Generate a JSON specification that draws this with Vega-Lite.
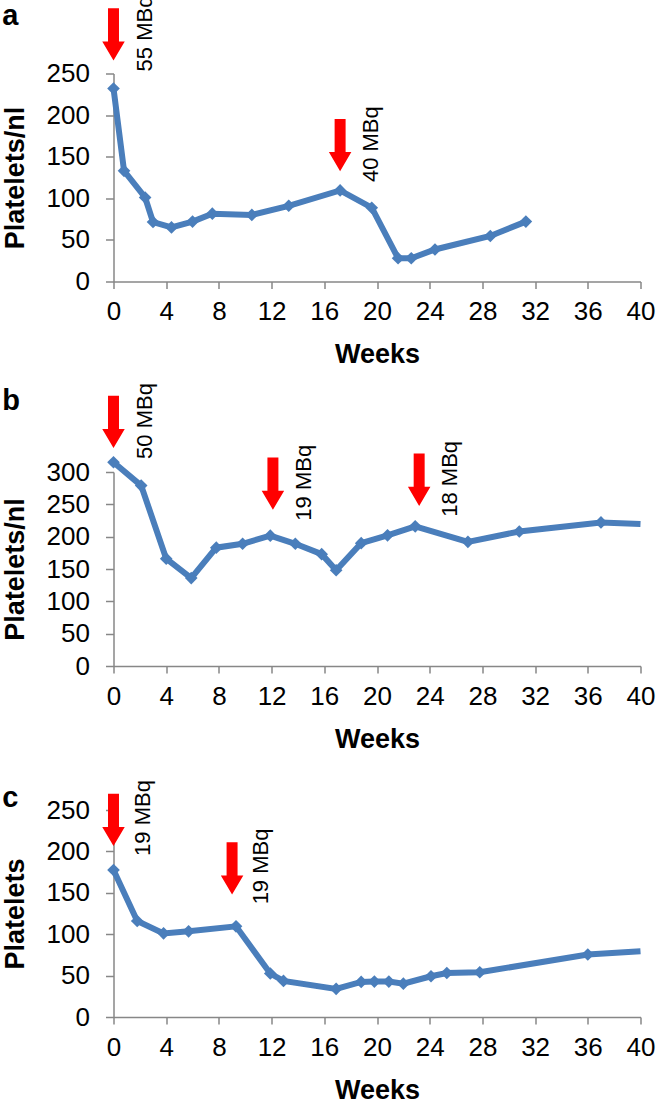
{
  "$schema": "https://vega.github.io/schema/vega-lite/v6.json",
  "padding": {"left": 0.5, "top": -4.5, "right": 0, "bottom": 0},
  "config": {
    "view": {"stroke": null},
    "font": "Liberation Sans",
    "axis": {
      "grid": false,
      "domainColor": "#878787", "domainWidth": 1.5,
      "tickColor": "#878787", "tickWidth": 1.5,
      "labelFont": "Liberation Sans", "labelFontSize": 26, "labelColor": "#000000",
      "titleFont": "Liberation Sans", "titleFontSize": 27, "titleFontWeight": "bold", "titleColor": "#000000",
      "labelOverlap": false
    },
    "axisX": {"tickSize": 7, "labelPadding": 10, "titlePadding": 17, "labelFlush": false},
    "axisY": {"tickSize": 8, "labelPadding": 16, "titlePadding": 17}
  },
  "datasets": {
    "a": [
      {"week": 0, "platelets": 232},
      {"week": 0.8, "platelets": 133},
      {"week": 2.4, "platelets": 101},
      {"week": 3.0, "platelets": 71.5},
      {"week": 4.4, "platelets": 65},
      {"week": 6.0, "platelets": 72},
      {"week": 7.5, "platelets": 81.5},
      {"week": 10.5, "platelets": 80},
      {"week": 13.3, "platelets": 91},
      {"week": 17.2, "platelets": 109.5},
      {"week": 19.6, "platelets": 88.7},
      {"week": 21.6, "platelets": 28},
      {"week": 22.6, "platelets": 28},
      {"week": 24.4, "platelets": 38.5},
      {"week": 28.6, "platelets": 54.7},
      {"week": 31.3, "platelets": 72}
    ],
    "b": [
      {"week": 0, "platelets": 315},
      {"week": 2.1, "platelets": 279},
      {"week": 4.0, "platelets": 166},
      {"week": 5.9, "platelets": 136},
      {"week": 7.8, "platelets": 183},
      {"week": 9.8, "platelets": 189},
      {"week": 11.9, "platelets": 201.5},
      {"week": 13.8, "platelets": 189},
      {"week": 15.8, "platelets": 173},
      {"week": 16.9, "platelets": 148},
      {"week": 18.8, "platelets": 190},
      {"week": 20.8, "platelets": 202},
      {"week": 22.9, "platelets": 216},
      {"week": 26.9, "platelets": 192},
      {"week": 30.8, "platelets": 208},
      {"week": 37.0, "platelets": 222},
      {"week": 40, "platelets": 219.6}
    ],
    "c": [
      {"week": 0, "platelets": 177.5},
      {"week": 1.8, "platelets": 116},
      {"week": 3.8, "platelets": 101},
      {"week": 5.7, "platelets": 103.5},
      {"week": 9.3, "platelets": 109.5},
      {"week": 11.9, "platelets": 52.5},
      {"week": 12.9, "platelets": 43.6},
      {"week": 16.9, "platelets": 34},
      {"week": 18.8, "platelets": 42.4},
      {"week": 19.8, "platelets": 42.8},
      {"week": 20.9, "platelets": 42.8},
      {"week": 22.0, "platelets": 40.3},
      {"week": 24.1, "platelets": 49.2},
      {"week": 25.3, "platelets": 53.2},
      {"week": 27.8, "platelets": 54},
      {"week": 36.0, "platelets": 75.5},
      {"week": 40, "platelets": 79.5}
    ],
    "a_doses": [
      {"week": 0, "y": 297, "dose": "55 MBq"},
      {"week": 17.2, "y": 164, "dose": "40 MBq"}
    ],
    "b_doses": [
      {"week": 0, "y": 377.5, "dose": "50 MBq"},
      {"week": 12.1, "y": 282, "dose": "19 MBq"},
      {"week": 23.2, "y": 288, "dose": "18 MBq"}
    ],
    "c_doses": [
      {"week": 0, "y": 238, "dose": "19 MBq"},
      {"week": 9.0, "y": 179.5, "dose": "19 MBq"}
    ]
  },
  "spacing": 15.5,
  "vconcat": [
    {
      "width": 527, "height": 208,
      "layer": [
        {
          "data": {"name": "a"},
          "mark": {"type": "line", "color": "#4A7EBB", "strokeWidth": 6},
          "encoding": {
            "x": {"field": "week", "type": "quantitative", "scale": {"domain": [0, 40], "nice": false}, "axis": {"values": [0,4,8,12,16,20,24,28,32,36,40], "tickCount": 20, "labelOverlap": false, "title": "Weeks"}},
            "y": {"field": "platelets", "type": "quantitative", "scale": {"domain": [0, 250], "nice": false}, "axis": {"values": [0,50,100,150,200,250], "tickCount": 20, "labelOverlap": false, "title": "Platelets/nl"}}
          }
        },
        {
          "data": {"name": "a"},
          "transform": [{"filter": "datum.week < 40"}],
          "mark": {"type": "point", "shape": "diamond", "filled": true, "opacity": 1, "color": "#4A7EBB", "size": 160},
          "encoding": {
            "x": {"field": "week", "type": "quantitative"},
            "y": {"field": "platelets", "type": "quantitative"}
          }
        },
        {
          "data": {"name": "a_doses"},
          "mark": {"type": "point", "shape": "M-0.21,-1L0.21,-1L0.21,0.27L0.43,0.27L0,1L-0.43,0.27L-0.21,0.27Z", "filled": true, "opacity": 1, "color": "#FF0000", "size": 2735},
          "encoding": {
            "x": {"field": "week", "type": "quantitative"},
            "y": {"field": "y", "type": "quantitative"}
          }
        },
        {
          "data": {"name": "a_doses"},
          "mark": {"type": "text", "angle": 270, "align": "left", "baseline": "middle", "dx": -37, "dy": 31, "fontSize": 22, "font": "Liberation Sans", "color": "#000000"},
          "encoding": {
            "x": {"field": "week", "type": "quantitative"},
            "y": {"field": "y", "type": "quantitative"},
            "text": {"field": "dose"}
          }
        },
        {
          "data": {"values": [{"panel": "a"}]},
          "mark": {"type": "text", "align": "left", "baseline": "alphabetic", "fontSize": 29, "fontWeight": "bold", "font": "Liberation Sans", "color": "#000000"},
          "encoding": {
            "x": {"datum": -8.45},
            "y": {"datum": 308},
            "text": {"field": "panel"}
          }
        }
      ]
    },
    {
      "spacing": 28,
      "vconcat": [
        {
          "width": 527, "height": 194,
          "layer": [
            {
              "data": {"name": "b"},
              "mark": {"type": "line", "color": "#4A7EBB", "strokeWidth": 6},
              "encoding": {
                "x": {"field": "week", "type": "quantitative", "scale": {"domain": [0, 40], "nice": false}, "axis": {"values": [0,4,8,12,16,20,24,28,32,36,40], "tickCount": 20, "labelOverlap": false, "title": "Weeks"}},
                "y": {"field": "platelets", "type": "quantitative", "scale": {"domain": [0, 300], "nice": false}, "axis": {"values": [0,50,100,150,200,250,300], "tickCount": 20, "labelOverlap": false, "title": "Platelets/nl"}}
              }
            },
            {
              "data": {"name": "b"},
              "transform": [{"filter": "datum.week < 40"}],
              "mark": {"type": "point", "shape": "diamond", "filled": true, "opacity": 1, "color": "#4A7EBB", "size": 160},
              "encoding": {
                "x": {"field": "week", "type": "quantitative"},
                "y": {"field": "platelets", "type": "quantitative"}
              }
            },
            {
              "data": {"name": "b_doses"},
              "mark": {"type": "point", "shape": "M-0.21,-1L0.21,-1L0.21,0.27L0.43,0.27L0,1L-0.43,0.27L-0.21,0.27Z", "filled": true, "opacity": 1, "color": "#FF0000", "size": 2735},
              "encoding": {
                "x": {"field": "week", "type": "quantitative"},
                "y": {"field": "y", "type": "quantitative"}
              }
            },
            {
              "data": {"name": "b_doses"},
              "mark": {"type": "text", "angle": 270, "align": "left", "baseline": "middle", "dx": -37, "dy": 31, "fontSize": 22, "font": "Liberation Sans", "color": "#000000"},
              "encoding": {
                "x": {"field": "week", "type": "quantitative"},
                "y": {"field": "y", "type": "quantitative"},
                "text": {"field": "dose"}
              }
            },
            {
              "data": {"values": [{"panel": "b"}]},
              "mark": {"type": "text", "align": "left", "baseline": "alphabetic", "fontSize": 29, "fontWeight": "bold", "font": "Liberation Sans", "color": "#000000"},
              "encoding": {
                "x": {"datum": -8.45},
                "y": {"datum": 396},
                "text": {"field": "panel"}
              }
            }
          ]
        },
        {
          "width": 527, "height": 207,
          "layer": [
            {
              "data": {"name": "c"},
              "mark": {"type": "line", "color": "#4A7EBB", "strokeWidth": 6},
              "encoding": {
                "x": {"field": "week", "type": "quantitative", "scale": {"domain": [0, 40], "nice": false}, "axis": {"values": [0,4,8,12,16,20,24,28,32,36,40], "tickCount": 20, "labelOverlap": false, "title": "Weeks"}},
                "y": {"field": "platelets", "type": "quantitative", "scale": {"domain": [0, 250], "nice": false}, "axis": {"values": [0,50,100,150,200,250], "tickCount": 20, "labelOverlap": false, "title": "Platelets"}}
              }
            },
            {
              "data": {"name": "c"},
              "transform": [{"filter": "datum.week < 40"}],
              "mark": {"type": "point", "shape": "diamond", "filled": true, "opacity": 1, "color": "#4A7EBB", "size": 160},
              "encoding": {
                "x": {"field": "week", "type": "quantitative"},
                "y": {"field": "platelets", "type": "quantitative"}
              }
            },
            {
              "data": {"name": "c_doses"},
              "mark": {"type": "point", "shape": "M-0.21,-1L0.21,-1L0.21,0.27L0.43,0.27L0,1L-0.43,0.27L-0.21,0.27Z", "filled": true, "opacity": 1, "color": "#FF0000", "size": 2735},
              "encoding": {
                "x": {"field": "week", "type": "quantitative"},
                "y": {"field": "y", "type": "quantitative"}
              }
            },
            {
              "data": {"name": "c_doses"},
              "mark": {"type": "text", "angle": 270, "align": "left", "baseline": "middle", "dx": -36, "dy": 29, "fontSize": 22, "font": "Liberation Sans", "color": "#000000"},
              "encoding": {
                "x": {"field": "week", "type": "quantitative"},
                "y": {"field": "y", "type": "quantitative"},
                "text": {"field": "dose"}
              }
            },
            {
              "data": {"values": [{"panel": "c"}]},
              "mark": {"type": "text", "align": "left", "baseline": "alphabetic", "fontSize": 29, "fontWeight": "bold", "font": "Liberation Sans", "color": "#000000"},
              "encoding": {
                "x": {"datum": -8.45},
                "y": {"datum": 254},
                "text": {"field": "panel"}
              }
            }
          ]
        }
      ]
    }
  ]
}
